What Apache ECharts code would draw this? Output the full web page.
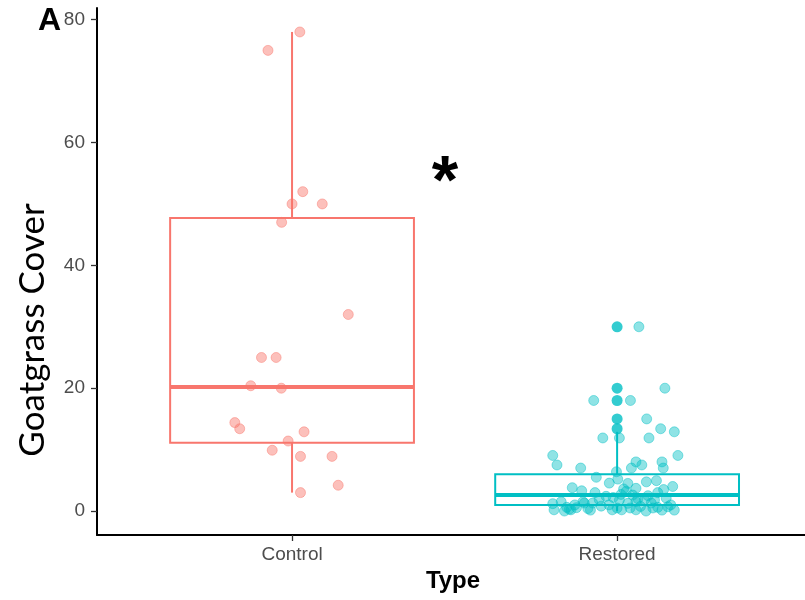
<!DOCTYPE html>
<html>
<head>
<meta charset="utf-8">
<script src="https://cdn.jsdelivr.net/npm/echarts@6/dist/echarts.min.js"></script>
<style>
html,body{margin:0;padding:0;background:#fff;}
#chart{width:805px;height:600px;}
</style>
</head>
<body>
<div id="chart"></div>
<script>
// ---- data ----
const categories = ['Control', 'Restored'];
const yTicks = [0, 20, 40, 60, 80];
const categoryPositions = [1, 2];

// box statistics per category (Control, Restored)
const boxMin    = [3, 0];
const boxQ1     = [11.1, 1.0];
const boxMedian = [20.2, 2.6];
const boxQ3     = [47.7, 6.0];
const boxMax    = [78, 12.9];

// outliers drawn by the boxplot (Restored)
const restoredOutliers = [13.4, 15, 18, 20, 30];

// jittered observations
const controlX = [0.926, 1.024, 1.033, 1.000, 1.093, 0.968, 1.173, 0.906, 0.951, 0.873,
                  0.967, 0.824, 0.839, 1.037, 0.988, 0.939, 1.026, 1.123, 1.142, 1.026];
const controlY = [75, 78, 52, 50, 50, 47, 32, 25, 25, 20.4,
                  20, 14.4, 13.4, 12.9, 11.4, 9.9, 8.9, 8.9, 4.2, 3];

const restoredX = [2.067, 2.147, 1.928, 2.041, 2.091, 2.134, 2.176, 1.956, 2.007, 2.098,
                   1.802, 2.187, 1.815, 1.888, 2.058, 2.076, 2.044, 2.138, 2.142, 1.998,
                   1.936, 2.002, 1.976, 2.033, 2.090, 2.121, 2.171, 1.862, 1.891, 1.932,
                   2.058, 2.143, 2.028, 2.125, 2.012, 2.048, 1.945, 2.084, 2.115, 2.151,
                   2.058, 2.007, 2.064, 1.802, 1.806, 1.838, 1.853, 1.875, 1.899, 1.918,
                   1.925, 1.828, 1.895, 2.014, 2.058, 2.089, 2.110, 2.138, 2.176, 2.105,
                   2.072, 2.033, 2.156, 1.951, 1.975, 1.988, 1.966, 1.858, 2.000, 2.020,
                   1.845, 1.910, 2.095, 2.165, 2.040, 1.985, 2.125, 1.870];
const restoredY = [30, 20, 18, 18, 15, 13.4, 12.9, 11.9, 11.9, 11.9,
                   9.05, 9.05, 7.5, 7.0, 8.0, 7.5, 7.0, 8.0, 7.0, 6.4,
                   5.5, 5.2, 4.55, 4.5, 4.75, 4.95, 4.0, 3.8, 3.3, 3.0,
                   3.7, 3.5, 3.2, 3.0, 2.7, 2.6, 1.85, 1.8, 1.8, 2.1,
                   1.55, 1.8, 2.0, 1.2, 0.2, 0, 0.3, 0.55, 1.3, 0.15,
                   1.3, 1.5, 1.5, 0.2, 0.2, 0, 0.5, 0.15, 0.15, 1.3,
                   0.75, 1.25, 0.7, 0.8, 1.0, 2.2, 2.4, 0.2, 0.5, 3.6,
                   0.6, 0.4, 2.5, 1.0, 0.5, 0.2, 0.6, 1.0];

// ---- styling ----
const colors = ['#F8766D', '#00BFC4'];
const fadedColors = ['rgba(248,118,109,0.58)', 'rgba(0,191,196,0.55)'];
const boxWidthUnits = 0.75;

const boxData = categories.map((c, i) => [categoryPositions[i], boxMin[i], boxQ1[i], boxMedian[i], boxQ3[i], boxMax[i], i]);
const controlPts = controlX.map((x, i) => [x, controlY[i]]);
const restoredPts = restoredX.map((x, i) => [x, restoredY[i]]);
const outlierPts = restoredOutliers.map(v => [categoryPositions[1], v]);

const chart = echarts.init(document.getElementById('chart'), null, {renderer: 'canvas'});

function renderBox(params, api) {
  const x = api.value(0);
  const ci = api.value(6);
  const col = colors[ci];
  const half = boxWidthUnits / 2;
  const pMin = api.coord([x, api.value(1)]);
  const pQ1L = api.coord([x - half, api.value(2)]);
  const pQ1R = api.coord([x + half, api.value(2)]);
  const pMedL = api.coord([x - half, api.value(3)]);
  const pMedR = api.coord([x + half, api.value(3)]);
  const pQ3L = api.coord([x - half, api.value(4)]);
  const pQ3 = api.coord([x, api.value(4)]);
  const pQ1 = api.coord([x, api.value(2)]);
  const pMax = api.coord([x, api.value(5)]);
  const lw = 2;
  return {
    type: 'group',
    children: [
      {type: 'line', shape: {x1: pQ3[0], y1: pQ3[1], x2: pMax[0], y2: pMax[1]}, style: {stroke: col, lineWidth: lw}},
      {type: 'line', shape: {x1: pQ1[0], y1: pQ1[1], x2: pMin[0], y2: pMin[1]}, style: {stroke: col, lineWidth: lw}},
      {type: 'rect', shape: {x: pQ3L[0], y: pQ3L[1], width: pQ1R[0] - pQ1L[0], height: pQ1L[1] - pQ3L[1]},
        style: {fill: '#fff', stroke: col, lineWidth: lw}},
      {type: 'line', shape: {x1: pMedL[0], y1: pMedL[1], x2: pMedR[0], y2: pMedR[1]}, style: {stroke: col, lineWidth: 4}}
    ]
  };
}

const option = {
  animation: false,
  backgroundColor: '#ffffff',
  grid: {left: 97, right: 0, top: 8, bottom: 65, containLabel: false},
  xAxis: {
    type: 'value', min: 0.4, max: 2.578,
    splitLine: {show: false},
    axisLine: {show: true, onZero: false, lineStyle: {color: '#000', width: 2}},
    axisTick: {show: true, length: 6, customValues: categoryPositions, lineStyle: {color: '#333', width: 1.3}},
    axisLabel: {show: true, customValues: categoryPositions, margin: 10,
      formatter: v => categories[categoryPositions.indexOf(v)] || '',
      color: '#4D4D4D', fontSize: 19, fontFamily: 'Liberation Sans'}
  },
  yAxis: {
    type: 'value', min: -3.9, max: 81.9,
    splitLine: {show: false},
    axisLine: {show: true, onZero: false, lineStyle: {color: '#000', width: 2}},
    axisTick: {show: true, length: 6, customValues: yTicks, lineStyle: {color: '#333', width: 1.3}},
    axisLabel: {show: true, customValues: yTicks, margin: 12, color: '#4D4D4D', fontSize: 19, fontFamily: 'Liberation Sans'}
  },
  graphic: [
    {type: 'text', left: 38, top: 5, style: {text: 'A', font: 'bold 32px "Liberation Sans"', fill: '#000'}},
    {type: 'text', x: 445, y: 184, style: {text: '*', font: 'bold 68px "Liberation Sans"', fill: '#000', align: 'center', verticalAlign: 'middle'}},
    {type: 'text', x: 33, y: 330, rotation: Math.PI / 2,
      style: {text: 'Goatgrass Cover', font: '35px Lato', fill: '#000', align: 'center', verticalAlign: 'middle'}},
    {type: 'text', x: 453, y: 581, style: {text: 'Type', font: 'bold 24px "Liberation Sans"', fill: '#000', align: 'center', verticalAlign: 'middle'}}
  ],
  series: [
    {type: 'custom', renderItem: renderBox, data: boxData, z: 1,
      encode: {x: 0, y: [1, 5]}},
    {type: 'scatter', data: controlPts, symbolSize: 10, z: 3,
      itemStyle: {color: fadedColors[0], borderColor: fadedColors[0], borderWidth: 1}},
    {type: 'scatter', data: outlierPts, symbolSize: 11, z: 4,
      itemStyle: {color: colors[1]}},
    {type: 'scatter', data: restoredPts, symbolSize: 10, z: 5,
      itemStyle: {color: fadedColors[1], borderColor: fadedColors[1], borderWidth: 1}}
  ]
};
chart.setOption(option);
</script>
</body>
</html>
